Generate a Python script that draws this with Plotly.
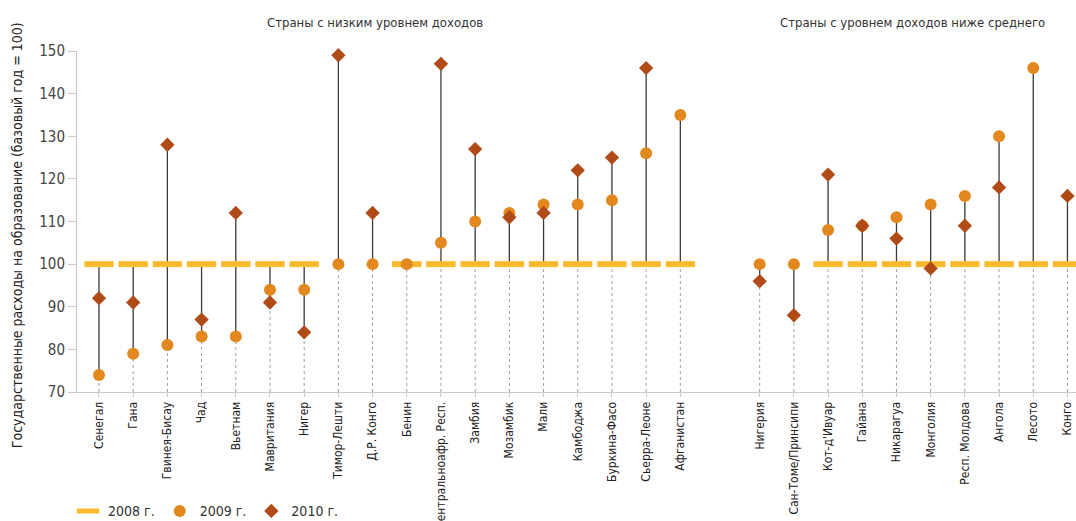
import plotly.graph_objects as go

# ---- data ----
low_countries = ["Сенегал", "Гана", "Гвинея-Бисау", "Чад", "Вьетнам", "Мавритания", "Нигер",
                 "Тимор-Лешти", "Д.Р. Конго", "Бенин", "Центральноафр. Респ.", "Замбия",
                 "Мозамбик", "Мали", "Камбоджа", "Буркина-Фасо", "Сьерра-Леоне", "Афганистан"]
low_2008 = [100, 100, 100, 100, 100, 100, 100, None, None, 100, 100, 100, 100, 100, 100, 100, 100, 100]
low_2009 = [74, 79, 81, 83, 83, 94, 94, 100, 100, 100, 105, 110, 112, 114, 114, 115, 126, 135]
low_2010 = [92, 91, 128, 87, 112, 91, 84, 149, 112, None, 147, 127, 111, 112, 122, 125, 146, None]

lm_countries = ["Нигерия", "Сан-Томе/Принсипи", "Кот-д'Ивуар", "Гайана", "Никарагуа", "Монголия",
                "Респ. Молдова", "Ангола", "Лесото", "Конго"]
lm_2008 = [None, None, 100, 100, 100, 100, 100, 100, 100, 100]
lm_2009 = [100, 100, 108, 109, 111, 114, 116, 130, 146, None]
lm_2010 = [96, 88, 121, 109, 106, 99, 109, 118, None, 116]

group_titles = ["Страны с низким уровнем доходов", "Страны с уровнем доходов ниже среднего"]
series_names = ["2008 г.", "2009 г.", "2010 г."]
y_title = "Государственные расходы на образование (базовый год = 100)"
y_ticks = [70, 80, 90, 100, 110, 120, 130, 140, 150]

# ---- layout helpers ----
GAP = 2.32
categories = low_countries + lm_countries
xpos = list(range(len(low_countries))) + [len(low_countries) - 1 + GAP + i for i in range(len(lm_countries))]
v2008 = low_2008 + lm_2008
v2009 = low_2009 + lm_2009
v2010 = low_2010 + lm_2010

FONT = "Liberation Sans Narrow, DejaVu Sans Condensed, Roboto, sans-serif"
C08, C09, C10 = "#FCBA2F", "#E2881E", "#B04A16"

# stems
stem_x, stem_y, dot_x, dot_y = [], [], [], []
for x, a, b, c in zip(xpos, v2008, v2009, v2010):
    vals = [v for v in (a, b, c) if v is not None]
    lo, hi = min(vals), max(vals)
    stem_x += [x, x, None]
    stem_y += [lo, hi, None]
    dot_x += [x, x, None]
    dot_y += [y_ticks[0], lo, None]

fig = go.Figure()
fig.add_trace(go.Scatter(x=dot_x, y=dot_y, mode="lines", showlegend=False, hoverinfo="skip",
                         line=dict(color="#a0a0a0", width=1, dash="dot")))
fig.add_trace(go.Scatter(x=stem_x, y=stem_y, mode="lines", showlegend=False, hoverinfo="skip",
                         line=dict(color="#3a3a3a", width=1.3)))
fig.add_trace(go.Scatter(x=xpos, y=v2008, mode="markers", name=series_names[0],
                         marker=dict(symbol="line-ew", size=21, line=dict(color=C08, width=6))))
fig.add_trace(go.Scatter(x=xpos, y=v2009, mode="markers", name=series_names[1],
                         marker=dict(symbol="circle", size=12, color=C09)))
fig.add_trace(go.Scatter(x=xpos, y=v2010, mode="markers", name=series_names[2],
                         marker=dict(symbol="diamond", size=11, color=C10)))

fig.update_traces(cliponaxis=False, selector=dict(mode="markers"))

fig.update_layout(
    width=1076, height=521,
    margin=dict(l=77, r=0, t=51, b=129, autoexpand=False),
    paper_bgcolor="white", plot_bgcolor="white",
    font=dict(family=FONT, color="#333333"),
    showlegend=True,
    legend=dict(orientation="h", x=-0.009, xanchor="left", y=-0.303, yanchor="top",
                font=dict(size=14, color="#333333"), tracegroupgap=0),
    xaxis=dict(range=[-0.643, 28.57], tickmode="array", tickvals=xpos, ticktext=categories,
               tickangle=-90, tickfont=dict(size=12, color="#222222"), showgrid=False,
               zeroline=False, showline=True, linecolor="#c8c8c8", linewidth=1,
               ticks="outside", ticklen=4, tickcolor="#c8c8c8", automargin=False),
    yaxis=dict(range=[70, 150], tickvals=y_ticks, tickfont=dict(size=15, color="#444444"),
               showgrid=False, zeroline=False, showline=True, linecolor="#c8c8c8", linewidth=1,
               ticks="outside", ticklen=8, tickcolor="#c8c8c8", automargin=False),
    annotations=[
        dict(text=group_titles[0], xref="paper", yref="paper", x=0.298, y=1.085,
             showarrow=False, font=dict(size=13, color="#333333"), xanchor="center", yanchor="middle"),
        dict(text=group_titles[1], xref="paper", yref="paper", x=0.836, y=1.085,
             showarrow=False, font=dict(size=13, color="#333333"), xanchor="center", yanchor="middle"),
        dict(text=y_title, xref="paper", yref="paper", x=-0.06, y=0.46, xanchor="center",
             yanchor="middle", textangle=-90, showarrow=False,
             font=dict(size=14, color="#222222")),
    ],
)

# remove the default page margin so the figure fills the window exactly
fig.write_html("out.html", config={"displayModeBar": False},
               post_script="document.body.style.margin='0';document.documentElement.style.overflow='hidden';")
